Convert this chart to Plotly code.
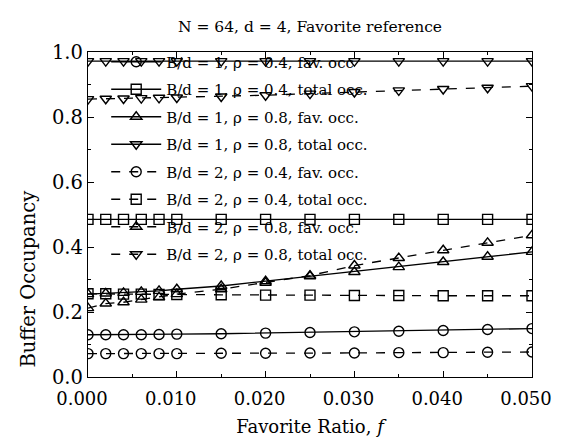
import plotly.graph_objects as go

ratio = [0.000, 0.002, 0.004, 0.006, 0.008, 0.010, 0.015, 0.020, 0.025, 0.030, 0.035, 0.040, 0.045, 0.050]

b1_r04_fav = [0.130, 0.130, 0.130, 0.130, 0.131, 0.132, 0.133, 0.135, 0.137, 0.139, 0.141, 0.143, 0.146, 0.149]
b1_r04_tot = [0.485, 0.485, 0.485, 0.485, 0.485, 0.485, 0.485, 0.485, 0.485, 0.485, 0.485, 0.485, 0.485, 0.485]
b1_r08_fav = [0.255, 0.257, 0.259, 0.262, 0.265, 0.270, 0.280, 0.295, 0.310, 0.323, 0.338, 0.354, 0.370, 0.385]
b1_r08_tot = [0.972, 0.972, 0.972, 0.972, 0.972, 0.972, 0.972, 0.972, 0.972, 0.972, 0.972, 0.972, 0.972, 0.972]
b2_r04_fav = [0.072, 0.072, 0.072, 0.072, 0.072, 0.072, 0.073, 0.073, 0.074, 0.074, 0.075, 0.075, 0.076, 0.077]
b2_r04_tot = [0.256, 0.256, 0.255, 0.255, 0.254, 0.254, 0.253, 0.252, 0.252, 0.251, 0.251, 0.250, 0.250, 0.250]
b2_r08_fav = [0.212, 0.226, 0.230, 0.238, 0.245, 0.255, 0.270, 0.290, 0.312, 0.343, 0.366, 0.390, 0.413, 0.436]
b2_r08_tot = [0.855, 0.856, 0.857, 0.858, 0.859, 0.860, 0.863, 0.867, 0.872, 0.877, 0.882, 0.886, 0.890, 0.895]

labels = [
    "B/d = 1, ρ = 0.4, fav. occ",
    "B/d = 1, ρ = 0.4, total occ.",
    "B/d = 1, ρ = 0.8, fav. occ.",
    "B/d = 1, ρ = 0.8, total occ.",
    "B/d = 2, ρ = 0.4, fav. occ.",
    "B/d = 2, ρ = 0.4, total occ.",
    "B/d = 2, ρ = 0.8, fav. occ.",
    "B/d = 2, ρ = 0.8, total occ.",
]
series = [b1_r04_fav, b1_r04_tot, b1_r08_fav, b1_r08_tot, b2_r04_fav, b2_r04_tot, b2_r08_fav, b2_r08_tot]
symbols = ["circle-open", "square-open", "triangle-up-open", "triangle-down-open"] * 2
dashes = ["solid"] * 4 + ["dash"] * 4

FONT = "DejaVu Serif, serif"

fig = go.Figure()
for i, (lab, ys) in enumerate(zip(labels, series)):
    fig.add_trace(go.Scatter(
        x=ratio, y=ys, name=lab, mode="lines+markers",
        legendgroup=f"g{i}",
        line=dict(color="black", width=1.3, dash=dashes[i]),
        marker=dict(symbol=symbols[i], size=10, color="black", line=dict(width=1.4, color="black")),
    ))

fig.update_layout(
    width=562, height=429,
    margin=dict(l=80, r=38, t=44, b=60),
    paper_bgcolor="white", plot_bgcolor="white",
    font=dict(family=FONT, color="black", size=18),
    title=dict(text="N = 64, d = 4, Favorite reference", xref="paper", x=0.5, xanchor="center",
               yref="paper", y=1.0, yanchor="bottom", pad=dict(b=20),
               font=dict(size=15.5, family=FONT)),
    legend=dict(x=0.041, y=1.02, xanchor="left", yanchor="top", bgcolor="rgba(0,0,0,0)",
                font=dict(size=15, family=FONT), tracegroupgap=5, itemwidth=50, maxheight=400),
    showlegend=True,
    annotations=[dict(text="Buffer Occupancy", textangle=-90, xref="paper", yref="paper",
                      x=-0.135, y=0.30, xanchor="center", yanchor="middle", showarrow=False,
                      font=dict(size=19.5, family=FONT))],
)
fig.update_xaxes(
    range=[0, 0.05], tickvals=[0, 0.01, 0.02, 0.03, 0.04, 0.05], tickformat=".3f",
    ticks="inside", ticklen=6, tickcolor="black", showline=True, linecolor="black", linewidth=1.3,
    mirror="ticks", showgrid=False, zeroline=False, ticklabelstandoff=5, ticklabelshift=-6,
    automargin=False, ticklabeloverflow="allow",
    minor=dict(dtick=0.005, ticks="inside", ticklen=3, tickcolor="black"),
    tickfont=dict(size=18, family=FONT),
    title=dict(text="Favorite Ratio, <i>f</i>", font=dict(size=18, family=FONT), standoff=16),
)
fig.update_yaxes(
    range=[0, 1.0], tickvals=[0, 0.2, 0.4, 0.6, 0.8, 1.0], tickformat=".1f",
    ticks="inside", ticklen=6, tickcolor="black", showline=True, linecolor="black", linewidth=1.3,
    mirror="ticks", showgrid=False, zeroline=False, automargin=False,
    minor=dict(dtick=0.1, ticks="inside", ticklen=3, tickcolor="black"),
    tickfont=dict(size=19.5, family=FONT),
)

fig.write_html("out.html")
